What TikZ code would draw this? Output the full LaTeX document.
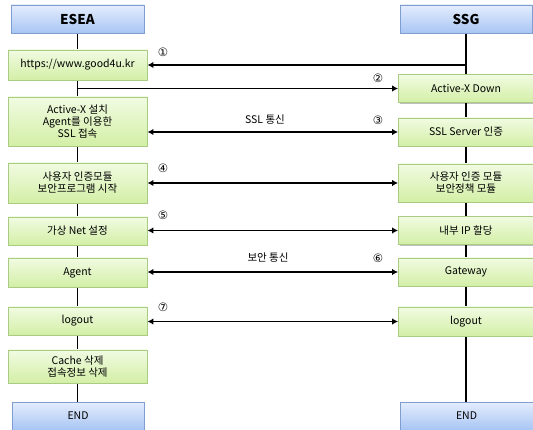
\documentclass[tikz,border=0pt]{standalone}
\usepackage{fontspec}
\setmainfont{Noto Sans CJK KR}
\newfontfamily\numfont{DejaVu Sans}
\usetikzlibrary{arrows.meta,shadows}
\definecolor{gtop}{HTML}{F1FBE2}
\definecolor{gbot}{HTML}{D3EFA6}
\definecolor{gdraw}{HTML}{A9CC82}
\definecolor{btop}{HTML}{E4EDFD}
\definecolor{bbot}{HTML}{A8C5F3}
\definecolor{bdraw}{HTML}{7E9ED2}
\tikzset{
  gbox/.style={draw=gdraw, line width=0.9pt, top color=gtop, bottom color=gbot,
    align=center, inner sep=1pt, font=\fontsize{10.5}{12}\selectfont,
    drop shadow={shadow xshift=1.2pt, shadow yshift=-1.2pt, opacity=0.25, fill=black}},
  hbox/.style={draw=bdraw, line width=0.9pt, top color=btop, bottom color=bbot,
    align=center, inner sep=1pt, minimum height=28pt,
    drop shadow={shadow xshift=0pt, shadow yshift=-1.5pt, opacity=0.45, fill=bdraw!70!black}},
  lbox/.style={gbox, minimum width=139pt},
  rbox/.style={gbox, minimum width=135pt},
  life/.style={line width=1.5pt, black},
  msg/.style={line width=1.5pt, black, -{Latex[length=6pt,width=6.5pt]}},
  bmsg/.style={line width=1.5pt, black, {Latex[length=6pt,width=6.5pt]}-{Latex[length=6pt,width=6.5pt]}},
  num/.style={font=\numfont\fontsize{11.5}{12}\selectfont, inner sep=0pt},
  lab/.style={font=\fontsize{10.5}{12}\selectfont, inner sep=0pt}
}
\begin{document}
\begin{tikzpicture}[x=1pt,y=-1pt]
\useasboundingbox (0,0) rectangle (533,430);
% lifeline coordinates
\coordinate (ltop) at (77.5,33);
\coordinate (lbot) at (77.5,402);
\coordinate (rtop) at (466,33);
\coordinate (rbot) at (466,402);
\draw[life] (ltop) -- (lbot);
\draw[life] (rtop) -- (rbot);
% headers
\node[hbox, minimum width=133pt, font=\fontsize{13.5}{15}\selectfont\bfseries] (esea) at (77.5,19) {ESEA};
\node[hbox, minimum width=132pt, font=\fontsize{13.5}{15}\selectfont\bfseries] (ssg) at (466,19) {SSG};
% left boxes
\node[lbox, minimum height=30pt] (https) at (77.5,65) {https://www.good4u.kr};
\node[lbox, minimum height=49pt] (axinst) at (77.5,121.5) {Active-X 설치\\Agent를 이용한\\SSL 접속};
\node[lbox, minimum height=40pt] (authl) at (77.5,183) {사용자 인증모듈\\보안프로그램 시작};
\node[lbox, minimum height=28pt] (vnet) at (77.5,231) {가상 Net 설정};
\node[lbox, minimum height=29pt] (agent) at (77.5,272.5) {Agent};
\node[lbox, minimum height=28pt] (logoutl) at (77.5,321) {logout};
\node[lbox, minimum height=33pt] (cache) at (77.5,366.5) {Cache 삭제\\접속정보 삭제};
% right boxes
\node[rbox, minimum height=28pt] (axdown) at (466,88.5) {Active-X Down};
\node[rbox, minimum height=28pt] (sslsrv) at (466,132) {SSL Server 인증};
\node[rbox, minimum height=38pt] (authr) at (466,183) {사용자 인증 모듈\\보안정책 모듈};
\node[rbox, minimum height=28pt] (ip) at (466,230.5) {내부 IP 할당};
\node[rbox, minimum height=28pt] (gateway) at (466,272) {Gateway};
\node[rbox, minimum height=29pt] (logoutr) at (466,321.5) {logout};
% END boxes
\node[hbox, minimum width=132pt, font=\fontsize{10.5}{12}\selectfont] (endl) at (78,416) {END};
\node[hbox, minimum width=133pt, font=\fontsize{10.5}{12}\selectfont] (endr) at (466.5,416) {END};
% messages
\coordinate (m1) at (466,65);
\draw[msg] (m1) -- (https.east);
\coordinate (m2) at (77.5,88.5);
\draw[msg] (m2) -- (axdown.west);
\draw[bmsg] (axinst.east |- sslsrv.west) -- (sslsrv.west);
\draw[bmsg] (authl.east) -- (authr.west);
\draw[bmsg] (vnet.east |- ip.west) -- (ip.west);
\draw[bmsg] (agent.east |- gateway.west) -- (gateway.west);
\draw[bmsg] (logoutl.east |- logoutr.west) -- (logoutr.west);
% labels
\node[num] (n1) at (163,52) {①};
\node[num] (n2) at (378,78) {②};
\node[num] (n3) at (378,120) {③};
\node[num] (n4) at (163,168) {④};
\node[num] (n5) at (163,215) {⑤};
\node[num] (n6) at (378,258) {⑥};
\node[num] (n7) at (163,307) {⑦};
\node[lab] (t3) at (265,120) {SSL 통신};
\node[lab] (t6) at (268,258) {보안 통신};
\end{tikzpicture}
\end{document}
